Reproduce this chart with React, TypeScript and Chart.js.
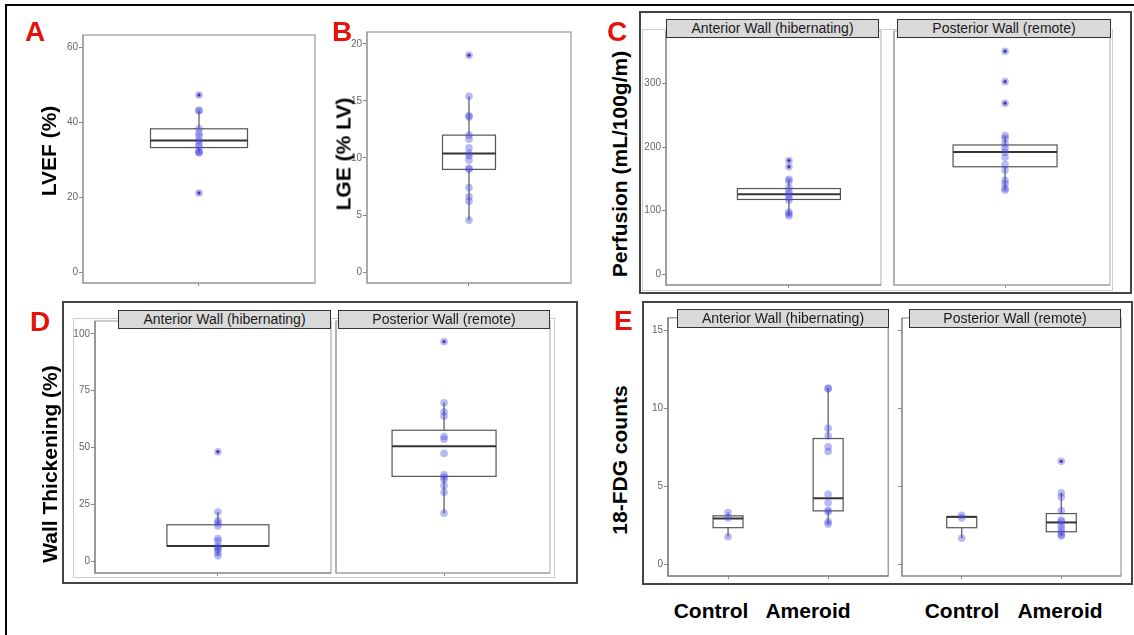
import React, { useEffect, useRef } from "react";
import { Chart, registerables } from "chart.js";
Chart.register(...registerables);

// ---------------- Data ----------------
// box arrays: [lower whisker, Q1, median, Q3, upper whisker]
const lvefValues = [47.2, 43.1, 43.0, 38.2, 37.0, 36.3, 35.1, 34.2, 33.5, 32.3, 31.9, 31.8, 21.1];
const lvefBox = [31.8, 33.2, 35.1, 38.2, 43.1];
const lvefOutliers = [47.2, 21.1];
const lvefTicks = [0, 20, 40, 60];

const lgeValues = [19.0, 15.4, 13.7, 13.6, 12.0, 11.65, 10.9, 10.4, 10.2, 9.8, 9.1, 9.0, 7.4, 6.6, 6.2, 4.55];
const lgeBox = [4.55, 9.0, 10.4, 12.0, 15.4];
const lgeOutliers = [19.0];
const lgeTicks = [0, 5, 10, 15, 20];

const perfAnteriorValues = [178.9, 169, 149.2, 146.6, 136.2, 130, 125.8, 120.6, 116.5, 97.8, 94.6, 91.5];
const perfAnteriorBox = [91.5, 117.5, 125.8, 134.7, 149.2];
const perfAnteriorOutliers = [178.9, 169];
const perfPosteriorValues = [351, 303, 269, 218, 214, 205, 198.4, 192, 184, 172.6, 163.8, 147.7, 142.5, 135.2, 132];
const perfPosteriorBox = [132, 169, 192.4, 203.3, 218];
const perfPosteriorOutliers = [351, 303, 269];
const perfTicks = [0, 100, 200, 300];

const wtAnteriorValues = [48.1, 21.6, 17.9, 16.8, 15.5, 9.9, 8.9, 6.6, 5.8, 5.1, 3.8, 2.3];
const wtAnteriorBox = [2.3, 6.6, 6.6, 16.0, 21.6];
const wtAnteriorOutliers = [48.1];
const wtPosteriorValues = [96.6, 69.7, 65.7, 63.8, 54.8, 53.6, 47.4, 38.0, 36.9, 35.9, 33.2, 30.3, 21.1];
const wtPosteriorBox = [21.1, 37.3, 50.6, 57.6, 69.7];
const wtPosteriorOutliers = [96.6];
const wtTicks = [0, 25, 50, 75, 100];

const fdgGroups = ["Control", "Ameroid"];
const fdgAntControl = [3.31, 2.97, 1.76];
const fdgAntControlBox = [1.76, 2.34, 2.93, 3.1, 3.31];
const fdgAntAmeroid = [11.32, 11.26, 8.73, 8.24, 7.54, 7.24, 4.48, 3.95, 3.46, 3.36, 2.72, 2.57];
const fdgAntAmeroidBox = [2.57, 3.42, 4.23, 8.07, 11.32];
const fdgPostControl = [3.14, 2.97, 1.66];
const fdgPostControlBox = [1.66, 2.34, 3.04, 3.04, 3.14];
const fdgPostAmeroid = [6.61, 4.59, 4.31, 3.42, 2.83, 2.72, 2.51, 2.29, 2.08, 1.91, 1.81];
const fdgPostAmeroidBox = [1.81, 2.08, 2.68, 3.25, 4.59];
const fdgPostAmeroidOutliers = [6.61];
const fdgTicks = [0, 5, 10, 15];

const facetLabels = ["Anterior Wall (hibernating)", "Posterior Wall (remote)"];
const panelLetters = ["A", "B", "C", "D", "E"];
const yTitles = ["LVEF (%)", "LGE (% LV)", "Perfusion (mL/100g/m)", "Wall Thickening (%)", "18-FDG counts"];

// ---------------- Styles ----------------
const FONT = '"Liberation Sans", Arial, Helvetica, sans-serif';
const POINT_COLOR = "rgba(72, 72, 226, 0.38)";
const OUTLIER_COLOR = "rgba(60, 25, 105, 0.9)";

type Group = { x: number; values: number[]; box: number[]; outliers?: number[] };
type FacetProps = {
  left: number; top: number; width: number; height: number;
  yMin: number; yMax: number; yTicks: number[]; yLabels: boolean; yTickMarks: boolean;
  xMin: number; xMax: number;
  groups: Group[]; boxWidth: number;
  frameColor: string; axisColor: string;
};

const boxPlugin = {
  id: "boxes",
  beforeDatasetsDraw(chart: any, _args: any, opts: any) {
    const { ctx, chartArea, scales } = chart;
    const x = scales.x, y = scales.y;
    ctx.save();
    ctx.strokeStyle = opts.frameColor;
    ctx.lineWidth = 1.2;
    ctx.strokeRect(chartArea.left, chartArea.top, chartArea.right - chartArea.left, chartArea.bottom - chartArea.top);
    ctx.strokeStyle = opts.axisColor;
    ctx.beginPath();
    ctx.moveTo(chartArea.left, chartArea.top);
    ctx.lineTo(chartArea.left, chartArea.bottom);
    ctx.lineTo(chartArea.right, chartArea.bottom);
    ctx.stroke();
    for (const g of opts.groups as Group[]) {
      const cx = x.getPixelForValue(g.x);
      const [lo, q1, med, q3, hi] = g.box.map((v) => y.getPixelForValue(v));
      const hw = opts.boxWidth / 2;
      ctx.strokeStyle = "#555";
      ctx.lineWidth = 1.2;
      ctx.beginPath();
      ctx.moveTo(cx, hi); ctx.lineTo(cx, q3);
      ctx.moveTo(cx, q1); ctx.lineTo(cx, lo);
      ctx.stroke();
      ctx.fillStyle = "#fff";
      ctx.fillRect(cx - hw, q3, 2 * hw, q1 - q3);
      ctx.strokeRect(cx - hw, q3, 2 * hw, q1 - q3);
      ctx.strokeStyle = "#333";
      ctx.lineWidth = 2;
      ctx.beginPath();
      ctx.moveTo(cx - hw, med); ctx.lineTo(cx + hw, med);
      ctx.stroke();
    }
    ctx.restore();
  },
};

function FacetChart(p: FacetProps) {
  const ref = useRef<HTMLCanvasElement>(null);
  const L = p.yLabels ? 30 : 6, R = 2, T = 2, B = 8;
  const cw = p.width + L + R, ch = p.height + T + B;
  useEffect(() => {
    const pts = p.groups.flatMap((g) => g.values.map((v) => ({ x: g.x, y: v })));
    const outs = p.groups.flatMap((g) => (g.outliers || []).map((v) => ({ x: g.x, y: v })));
    const chart = new Chart(ref.current as HTMLCanvasElement, {
      type: "scatter",
      data: {
        datasets: [
          { data: pts, pointRadius: 3.8, backgroundColor: POINT_COLOR, borderWidth: 0, pointHoverRadius: 3.8 },
          { data: outs, pointRadius: 1.7, backgroundColor: OUTLIER_COLOR, borderWidth: 0 },
        ],
      },
      options: {
        animation: false,
        responsive: false,
        maintainAspectRatio: false,
        events: [],
        layout: { padding: { top: T, right: R, left: 0, bottom: 0 } },
        plugins: {
          legend: { display: false },
          tooltip: { enabled: false },
          boxes: { groups: p.groups, boxWidth: p.boxWidth, frameColor: p.frameColor, axisColor: p.axisColor },
        } as any,
        scales: {
          x: {
            type: "linear",
            min: p.xMin,
            max: p.xMax,
            afterBuildTicks: (s: any) => { s.ticks = p.groups.map((g) => ({ value: g.x })); },
            afterFit: (s: any) => { s.height = B; s.paddingLeft = 0; s.paddingRight = 0; },
            ticks: { display: false },
            grid: { display: true, drawOnChartArea: false, drawTicks: true, tickLength: 3, color: "#888", tickColor: "#888" },
            border: { display: false },
          },
          y: {
            type: "linear",
            min: p.yMin,
            max: p.yMax,
            afterBuildTicks: (s: any) => { s.ticks = p.yTicks.map((v) => ({ value: v })); },
            afterFit: (s: any) => { s.width = L; s.paddingTop = 0; s.paddingBottom = 0; },
            ticks: { display: p.yLabels, color: "#666", font: { family: FONT, size: 10 }, padding: 1 },
            grid: { display: p.yTickMarks, drawOnChartArea: false, drawTicks: true, tickLength: 4, color: "#888", tickColor: "#888" },
            border: { display: false },
          },
        },
      } as any,
      plugins: [boxPlugin],
    });
    return () => chart.destroy();
  }, []);
  return (
    <canvas
      ref={ref}
      width={cw}
      height={ch}
      style={{ position: "absolute", left: p.left - L, top: p.top - T, width: cw, height: ch }}
    />
  );
}

function Letter({ t, x, y }: { t: string; x: number; y: number }) {
  return (
    <div style={{ position: "absolute", left: x, top: y, font: `bold 28px ${FONT}`, lineHeight: "28px", color: "#e3120b" }}>{t}</div>
  );
}

function YTitle({ t, cx, cy }: { t: string; cx: number; cy: number }) {
  return (
    <div
      style={{
        position: "absolute", left: cx, top: cy, transform: "translate(-50%, -50%) rotate(-90deg)",
        font: `bold 21px ${FONT}`, lineHeight: "21px", whiteSpace: "nowrap", color: "#000",
      }}
    >{t}</div>
  );
}

function Strip({ t, x1, y1, x2, y2 }: { t: string; x1: number; y1: number; x2: number; y2: number }) {
  return (
    <div
      style={{
        position: "absolute", left: x1, top: y1, width: x2 - x1, height: y2 - y1, boxSizing: "border-box",
        border: "1.5px solid #333", background: "#d9d9d9", font: `14px ${FONT}`, color: "#1a1a1a",
        lineHeight: `${y2 - y1 - 3}px`, textAlign: "center", whiteSpace: "nowrap", zIndex: 2,
      }}
    >{t}</div>
  );
}

function Frame({ x1, y1, x2, y2, color, w }: { x1: number; y1: number; x2: number; y2: number; color: string; w: number }) {
  return (
    <div style={{ position: "absolute", left: x1 - w / 2, top: y1 - w / 2, width: x2 - x1 + w, height: y2 - y1 + w, boxSizing: "border-box", border: `${w}px solid ${color}` }} />
  );
}

function BottomLabel({ t, cx }: { t: string; cx: number }) {
  return (
    <div style={{ position: "absolute", left: cx, top: 600, transform: "translateX(-50%)", font: `bold 21px ${FONT}`, lineHeight: "21px", whiteSpace: "nowrap", color: "#000" }}>{t}</div>
  );
}

export default function App() {
  const facets: FacetProps[] = [
    // A
    { left: 83, top: 33, width: 234, height: 250, yMin: -2.9, yMax: 63.2, yTicks: lvefTicks, yLabels: true, yTickMarks: true,
      xMin: 0.4, xMax: 1.6, groups: [{ x: 1, values: lvefValues, box: lvefBox, outliers: lvefOutliers }], boxWidth: 97,
      frameColor: "#999", axisColor: "#999" },
    // B
    { left: 367, top: 30, width: 206, height: 253, yMin: -0.96, yMax: 21.04, yTicks: lgeTicks, yLabels: true, yTickMarks: true,
      xMin: 0.4, xMax: 1.6, groups: [{ x: 1, values: lgeValues, box: lgeBox, outliers: lgeOutliers }], boxWidth: 53,
      frameColor: "#999", axisColor: "#999" },
    // C1
    { left: 666, top: 29, width: 217, height: 256, yMin: -17.2, yMax: 382.8, yTicks: perfTicks, yLabels: true, yTickMarks: true,
      xMin: 0.314, xMax: 1.514, groups: [{ x: 1, values: perfAnteriorValues, box: perfAnteriorBox, outliers: perfAnteriorOutliers }], boxWidth: 103,
      frameColor: "#bbb", axisColor: "#777" },
    // C2
    { left: 894, top: 29, width: 218, height: 256, yMin: -17.2, yMax: 382.8, yTicks: perfTicks, yLabels: false, yTickMarks: false,
      xMin: 0.383, xMax: 1.583, groups: [{ x: 1, values: perfPosteriorValues, box: perfPosteriorBox, outliers: perfPosteriorOutliers }], boxWidth: 104,
      frameColor: "#bbb", axisColor: "#999" },
    // D1
    { left: 95, top: 319, width: 238, height: 254, yMin: -5.24, yMax: 105.68, yTicks: wtTicks, yLabels: true, yTickMarks: true,
      xMin: 0.375, xMax: 1.575, groups: [{ x: 1, values: wtAnteriorValues, box: wtAnteriorBox, outliers: wtAnteriorOutliers }], boxWidth: 102,
      frameColor: "#aaa", axisColor: "#777" },
    // D2
    { left: 336, top: 319, width: 216, height: 254, yMin: -5.24, yMax: 105.68, yTicks: wtTicks, yLabels: false, yTickMarks: false,
      xMin: 0.394, xMax: 1.594, groups: [{ x: 1, values: wtPosteriorValues, box: wtPosteriorBox, outliers: wtPosteriorOutliers }], boxWidth: 104,
      frameColor: "#bbb", axisColor: "#999" },
    // E1
    { left: 668, top: 316, width: 222, height: 260, yMin: -0.766, yMax: 15.83, yTicks: fdgTicks, yLabels: true, yTickMarks: true,
      xMin: 0.4, xMax: 2.6, groups: [
        { x: 1, values: fdgAntControl, box: fdgAntControlBox },
        { x: 2, values: fdgAntAmeroid, box: fdgAntAmeroidBox },
      ], boxWidth: 30, frameColor: "#888", axisColor: "#777" },
    // E2
    { left: 902, top: 316, width: 221, height: 260, yMin: -0.766, yMax: 15.83, yTicks: fdgTicks, yLabels: false, yTickMarks: true,
      xMin: 0.4, xMax: 2.6, groups: [
        { x: 1, values: fdgPostControl, box: fdgPostControlBox },
        { x: 2, values: fdgPostAmeroid, box: fdgPostAmeroidBox, outliers: fdgPostAmeroidOutliers },
      ], boxWidth: 30, frameColor: "#999", axisColor: "#888" },
  ];

  return (
    <div style={{ position: "fixed", left: 0, top: 0, width: 1134, height: 635, background: "#fff", overflow: "hidden" }}>
      {/* figure border (top & left) */}
      <div style={{ position: "absolute", left: 5, top: 4, width: 1129, height: 2, background: "#000" }} />
      <div style={{ position: "absolute", left: 5, top: 4, width: 2, height: 631, background: "#000" }} />

      {/* panel frames */}
      <Frame x1={642} y1={29} x2={1112} y2={290} color="#ccc" w={1} />
      <Frame x1={73} y1={318} x2={554} y2={577} color="#ccc" w={1} />
      <Frame x1={640} y1={12} x2={1131} y2={293} color="#444" w={2} />
      <Frame x1={63} y1={302} x2={577} y2={583} color="#444" w={2} />
      <Frame x1={643} y1={302} x2={1132} y2={584} color="#444" w={2} />

      {facets.map((f, i) => <FacetChart key={i} {...f} />)}

      {/* strips */}
      <Strip t={facetLabels[0]} x1={666} y1={19} x2={879} y2={38} />
      <Strip t={facetLabels[1]} x1={897} y1={19} x2={1111} y2={38} />
      <Strip t={facetLabels[0]} x1={118} y1={310} x2={331} y2={329} />
      <Strip t={facetLabels[1]} x1={338} y1={310} x2={550} y2={329} />
      <Strip t={facetLabels[0]} x1={677} y1={309} x2={889} y2={328} />
      <Strip t={facetLabels[1]} x1={909} y1={309} x2={1121} y2={328} />

      {/* panel letters */}
      <Letter t={panelLetters[0]} x={25} y={18} />
      <Letter t={panelLetters[1]} x={332} y={18} />
      <Letter t={panelLetters[2]} x={607} y={18} />
      <Letter t={panelLetters[3]} x={30} y={308} />
      <Letter t={panelLetters[4]} x={614} y={307} />

      {/* y titles */}
      <YTitle t={yTitles[0]} cx={48} cy={151} />
      <YTitle t={yTitles[1]} cx={343} cy={154} />
      <YTitle t={yTitles[2]} cx={619} cy={164} />
      <YTitle t={yTitles[3]} cx={49} cy={464} />
      <YTitle t={yTitles[4]} cx={619} cy={460} />

      {/* bottom category labels */}
      <BottomLabel t={fdgGroups[0]} cx={711} />
      <BottomLabel t={fdgGroups[1]} cx={808} />
      <BottomLabel t={fdgGroups[0]} cx={962} />
      <BottomLabel t={fdgGroups[1]} cx={1060} />
    </div>
  );
}
